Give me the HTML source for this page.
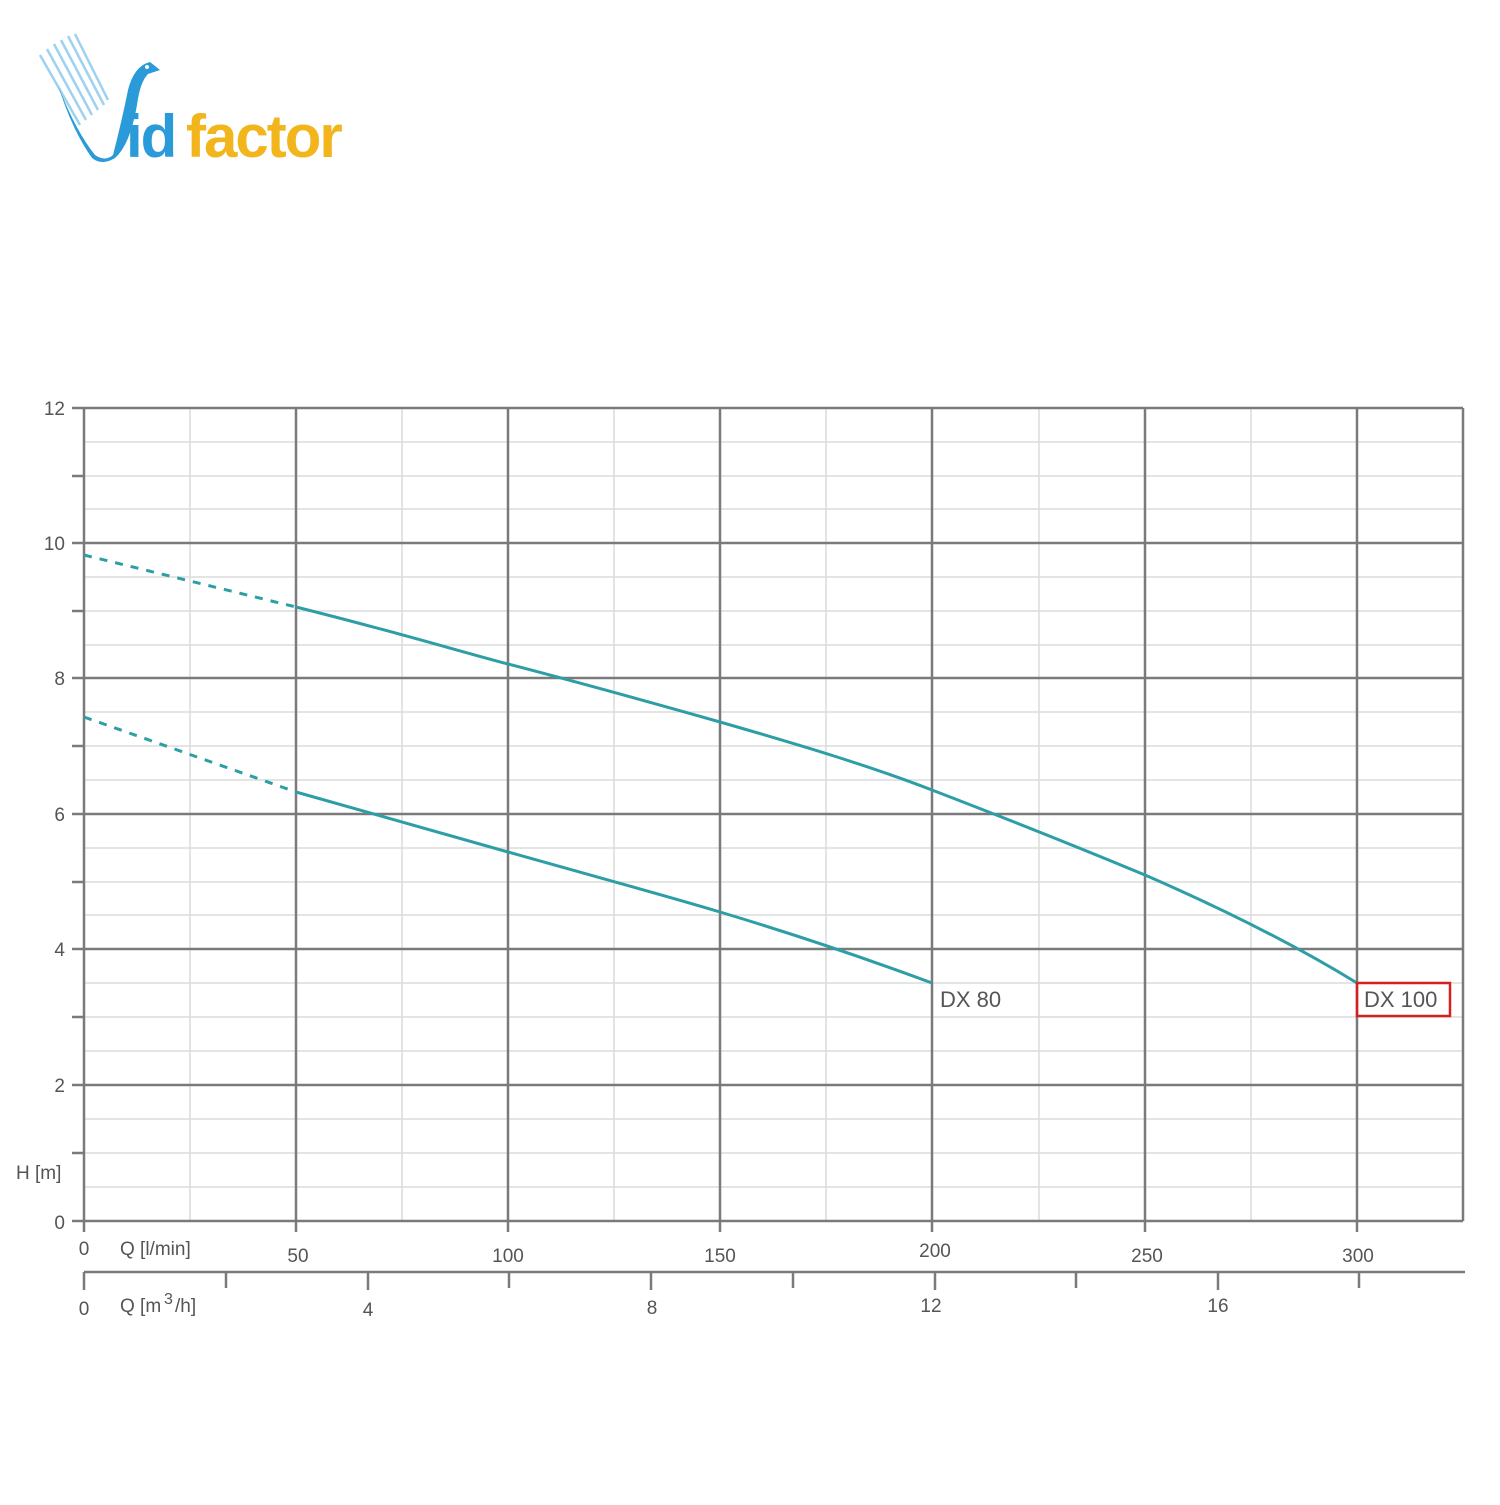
<!DOCTYPE html>
<html><head><style>
body{margin:0;background:#fff;}
svg text{font-family:"Liberation Sans",sans-serif;fill:#555;}
</style></head><body>
<svg width="1500" height="1500" viewBox="0 0 1500 1500" xmlns="http://www.w3.org/2000/svg">
<!-- logo -->
<g>
<g stroke="#9fd2f0" stroke-width="2.5">
<line x1="40" y1="55" x2="80" y2="125"/><line x1="47" y1="49" x2="86" y2="120"/>
<line x1="54" y1="44" x2="92" y2="115"/><line x1="61" y1="40" x2="98" y2="110"/>
<line x1="68" y1="36" x2="104" y2="105"/><line x1="75" y1="34" x2="108" y2="100"/>
</g>
<path d="M58 85 Q75 130 95 155 Q105 162 113 155 Q122 120 128 90 Q134 66 150 62 L160 70 L148 74 Q140 82 137 105 Q130 145 115 158 Q102 166 92 158 Q72 130 58 85 Z" fill="#2a9ad8"/>
<circle cx="147" cy="67" r="2" fill="#fff"/>
<text x="126" y="157" font-size="60" style="fill:#2a9ad8;font-weight:bold;letter-spacing:-2px">id</text>
<text x="186" y="157" font-size="60" style="fill:#f2b51c;font-weight:bold;letter-spacing:-2px">factor</text>
</g>
<!-- minor grid -->
<g stroke="#dcdcdc" stroke-width="1.5">
<line x1="84" y1="442" x2="1463" y2="442"/><line x1="84" y1="476" x2="1463" y2="476"/><line x1="84" y1="509" x2="1463" y2="509"/>
<line x1="84" y1="577" x2="1463" y2="577"/><line x1="84" y1="611" x2="1463" y2="611"/><line x1="84" y1="645" x2="1463" y2="645"/>
<line x1="84" y1="712" x2="1463" y2="712"/><line x1="84" y1="746" x2="1463" y2="746"/><line x1="84" y1="780" x2="1463" y2="780"/>
<line x1="84" y1="848" x2="1463" y2="848"/><line x1="84" y1="882" x2="1463" y2="882"/><line x1="84" y1="915" x2="1463" y2="915"/>
<line x1="84" y1="983" x2="1463" y2="983"/><line x1="84" y1="1017" x2="1463" y2="1017"/><line x1="84" y1="1051" x2="1463" y2="1051"/>
<line x1="84" y1="1119" x2="1463" y2="1119"/><line x1="84" y1="1153" x2="1463" y2="1153"/><line x1="84" y1="1187" x2="1463" y2="1187"/>
<line x1="190" y1="408" x2="190" y2="1221"/><line x1="402" y1="408" x2="402" y2="1221"/><line x1="614" y1="408" x2="614" y2="1221"/>
<line x1="826" y1="408" x2="826" y2="1221"/><line x1="1039" y1="408" x2="1039" y2="1221"/><line x1="1251" y1="408" x2="1251" y2="1221"/>
</g>
<!-- major grid -->
<g stroke="#7a7a7a" stroke-width="2.5">
<line x1="84" y1="408" x2="1463" y2="408"/><line x1="84" y1="543" x2="1463" y2="543"/><line x1="84" y1="678" x2="1463" y2="678"/>
<line x1="84" y1="814" x2="1463" y2="814"/><line x1="84" y1="949" x2="1463" y2="949"/><line x1="84" y1="1085" x2="1463" y2="1085"/>
<line x1="84" y1="1221" x2="1463" y2="1221"/>
<line x1="84" y1="408" x2="84" y2="1232"/><line x1="296" y1="408" x2="296" y2="1232"/><line x1="508" y1="408" x2="508" y2="1232"/>
<line x1="720" y1="408" x2="720" y2="1232"/><line x1="932" y1="408" x2="932" y2="1232"/><line x1="1145" y1="408" x2="1145" y2="1232"/>
<line x1="1357" y1="408" x2="1357" y2="1232"/><line x1="1463" y1="408" x2="1463" y2="1221"/>
<line x1="72" y1="408" x2="84" y2="408"/><line x1="72" y1="476" x2="84" y2="476"/><line x1="72" y1="543" x2="84" y2="543"/>
<line x1="72" y1="611" x2="84" y2="611"/><line x1="72" y1="678" x2="84" y2="678"/><line x1="72" y1="746" x2="84" y2="746"/>
<line x1="72" y1="814" x2="84" y2="814"/><line x1="72" y1="882" x2="84" y2="882"/><line x1="72" y1="949" x2="84" y2="949"/>
<line x1="72" y1="1017" x2="84" y2="1017"/><line x1="72" y1="1085" x2="84" y2="1085"/><line x1="72" y1="1153" x2="84" y2="1153"/>
<line x1="72" y1="1221" x2="84" y2="1221"/>
<line x1="84" y1="1272" x2="1465" y2="1272"/>
<line x1="84" y1="1272" x2="84" y2="1290"/><line x1="226" y1="1272" x2="226" y2="1288"/><line x1="368" y1="1272" x2="368" y2="1290"/>
<line x1="509" y1="1272" x2="509" y2="1288"/><line x1="651" y1="1272" x2="651" y2="1290"/><line x1="793" y1="1272" x2="793" y2="1288"/>
<line x1="935" y1="1272" x2="935" y2="1290"/><line x1="1076" y1="1272" x2="1076" y2="1288"/><line x1="1218" y1="1272" x2="1218" y2="1290"/>
<line x1="1359" y1="1272" x2="1359" y2="1288"/>
</g>
<!-- curves -->
<g fill="none" stroke="#2e9ea6" stroke-width="3">
<path d="M84 555 L296 607" stroke-dasharray="8,8"/>
<path d="M296 607 C400 633 455 650 508 664 C600 688 660 705 720 722 C800 745 870 766 932 790 C1010 820 1080 848 1145 875 C1230 912 1300 948 1357 983"/>
<path d="M84 717 L296 792" stroke-dasharray="8,8"/>
<path d="M296 792 C400 822 455 837 508 852 C600 878 660 894 720 912 C800 936 870 960 932 983"/>
</g>
<!-- labels -->
<g font-size="19">
<text x="65" y="415" text-anchor="end">12</text><text x="65" y="550" text-anchor="end">10</text>
<text x="65" y="685" text-anchor="end">8</text><text x="65" y="821" text-anchor="end">6</text>
<text x="65" y="956" text-anchor="end">4</text><text x="65" y="1092" text-anchor="end">2</text>
<text x="65" y="1229" text-anchor="end">0</text>
<text x="16" y="1179">H [m]</text>
<text x="84" y="1255" text-anchor="middle">0</text>
<text x="120" y="1255">Q [l/min]</text>
<text x="298" y="1262" text-anchor="middle">50</text><text x="508" y="1262" text-anchor="middle">100</text>
<text x="720" y="1262" text-anchor="middle">150</text><text x="935" y="1257" text-anchor="middle">200</text>
<text x="1147" y="1262" text-anchor="middle">250</text><text x="1358" y="1262" text-anchor="middle">300</text>
<text x="84" y="1315" text-anchor="middle">0</text>
<text x="120" y="1312">Q [m</text><text x="164" y="1304" font-size="16">3</text><text x="175" y="1312">/h]</text>
<text x="368" y="1316" text-anchor="middle">4</text><text x="652" y="1314" text-anchor="middle">8</text>
<text x="931" y="1312" text-anchor="middle">12</text><text x="1218" y="1312" text-anchor="middle">16</text>
<text x="940" y="1007" font-size="22">DX 80</text>
<text x="1364" y="1007" font-size="22">DX 100</text>
</g>
<rect x="1357" y="983" width="93" height="33" fill="none" stroke="#d62020" stroke-width="2.5"/>
</svg>
</body></html>
